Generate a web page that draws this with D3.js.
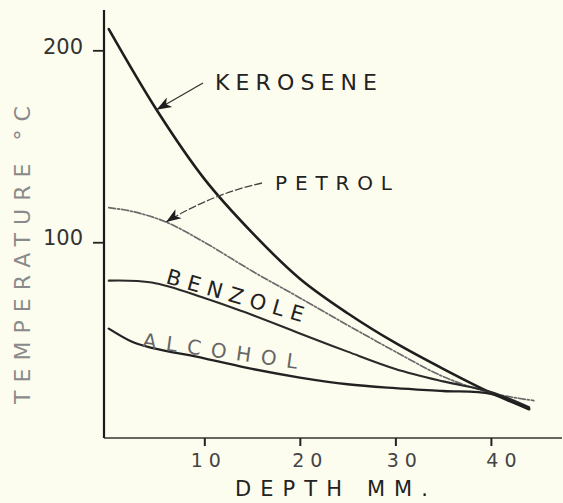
<!DOCTYPE html>
<html>
<head>
<meta charset="utf-8">
<script src="https://cdn.jsdelivr.net/npm/d3@7"></script>
<style>
  body { margin: 0; background: #fdfdef; }
  svg { display: block; }
  text { font-family: "DejaVu Sans", sans-serif; }
</style>
</head>
<body>
<div id="chart"></div>
<script>
let svgWidth = 563;
let svgHeight = 503;

// Data (depth in mm, temperature in deg C)
let keroseneDepth = [0, 5, 10, 15, 20, 25, 30, 35, 40, 44];
let keroseneTemp  = [211, 169, 133, 105, 81, 63, 47.5, 34, 21.5, 13];

let petrolDepth = [0, 2.5, 6, 10, 15, 20, 26, 30, 35, 40, 44.5];
let petrolTemp  = [118, 116, 110.5, 100, 85, 71, 54, 43, 30, 21.5, 17.5];

let benzoleDepth = [0, 4.5, 10, 14, 20, 25, 30, 35, 40, 44];
let benzoleTemp  = [80, 79, 71, 64, 52.5, 43, 34, 27.5, 22, 14];

let alcoholDepth = [0, 2.5, 4.5, 10, 15, 20, 25, 30, 35, 40, 44];
let alcoholTemp  = [55, 48, 45, 39.5, 34, 29.5, 26, 24, 22.5, 21, 13.5];

let xTicks = [10, 20, 30, 40];
let xTickLabels = ["10", "20", "30", "40"];
let yTicks = [100, 200];
let yTickLabels = ["100", "200"];

let series = [
  { name: "KEROSENE", depth: keroseneDepth, temp: keroseneTemp },
  { name: "PETROL", depth: petrolDepth, temp: petrolTemp },
  { name: "BENZOLE", depth: benzoleDepth, temp: benzoleTemp },
  { name: "ALCOHOL", depth: alcoholDepth, temp: alcoholTemp }
];

let svg = d3.select("#chart")
  .append("svg")
  .attr("width", svgWidth)
  .attr("height", svgHeight);

svg.append("rect")
  .attr("width", svgWidth)
  .attr("height", svgHeight)
  .attr("fill", "#fdfdef");

let x = d3.scaleLinear().domain([-0.5, 46.5]).range([104, 553]);
let y = d3.scaleLinear().domain([-2, 221]).range([438, 10]);

// axes lines
svg.append("line")
  .attr("x1", x(-0.5)).attr("x2", x(-0.5))
  .attr("y1", y(221)).attr("y2", y(-2))
  .attr("stroke", "#1a1a1a").attr("stroke-width", 2.2);

svg.append("line")
  .attr("x1", x(-0.5)).attr("x2", 562)
  .attr("y1", y(-2)).attr("y2", y(-2))
  .attr("stroke", "#333").attr("stroke-width", 1.6);

// x ticks
let bottomAxis = d3.axisBottom(x)
  .tickValues(xTicks)
  .tickFormat((d, i) => xTickLabels[i])
  .tickSize(8)
  .tickPadding(8);

let gx = svg.append("g")
  .attr("transform", `translate(0, ${y(-2)})`)
  .call(bottomAxis);
gx.select(".domain").remove();
gx.selectAll(".tick line").attr("stroke", "#222").attr("stroke-width", 2);
gx.selectAll(".tick text")
  .attr("font-size", 19)
  .attr("fill", "#444")
  .attr("letter-spacing", 6)
  .attr("dx", (d, i) => [4, 10, 9, 13][i]);

// y ticks
let leftAxis = d3.axisLeft(y)
  .tickValues(yTicks)
  .tickFormat((d, i) => yTickLabels[i])
  .tickSize(11)
  .tickPadding(10);

let gy = svg.append("g")
  .attr("transform", `translate(${x(-0.5)}, 0)`)
  .call(leftAxis);
gy.select(".domain").remove();
gy.selectAll(".tick line").attr("stroke", "#222").attr("stroke-width", 1.8);
gy.selectAll(".tick text")
  .attr("font-size", 21)
  .attr("fill", "#333")
  .attr("y", -4);

// curves
let line = d3.line()
  .x(d => x(d[0]))
  .y(d => y(d[1]))
  .curve(d3.curveCatmullRom.alpha(0.5));

let styles = {
  KEROSENE: { stroke: "#1e1e1e", width: 2.6, dash: null },
  PETROL: { stroke: "#6a6a6a", width: 1.7, dash: "7,2,2,2" },
  BENZOLE: { stroke: "#2a2a2a", width: 2.1, dash: null },
  ALCOHOL: { stroke: "#222", width: 2.3, dash: null }
};

series.forEach(function(s) {
  let pts = s.depth.map((d, i) => [d, s.temp[i]]);
  svg.append("path")
    .datum(pts)
    .attr("d", line)
    .attr("fill", "none")
    .attr("stroke", styles[s.name].stroke)
    .attr("stroke-width", styles[s.name].width)
    .attr("stroke-dasharray", styles[s.name].dash)
    .attr("stroke-linecap", "round");
});

// arrowheads
function arrowHead(tipX, tipY, fromX, fromY) {
  let ang = Math.atan2(tipY - fromY, tipX - fromX);
  let len = 15, half = 5.5;
  let bx = tipX - len * Math.cos(ang), by = tipY - len * Math.sin(ang);
  let px = -Math.sin(ang) * half, py = Math.cos(ang) * half;
  svg.append("path")
    .attr("d", `M${tipX},${tipY}L${bx + px},${by + py}L${bx + 4 * Math.cos(ang)},${by + 4 * Math.sin(ang)}L${bx - px},${by - py}Z`)
    .attr("fill", "#1e1e1e");
}

// kerosene label + arrow
let kTip = [x(5), y(169)];
svg.append("line")
  .attr("x1", 203).attr("y1", 83)
  .attr("x2", kTip[0]).attr("y2", kTip[1])
  .attr("stroke", "#333").attr("stroke-width", 1.3);
arrowHead(kTip[0], kTip[1], 203, 83);

svg.append("text")
  .attr("x", 215).attr("y", 90)
  .attr("font-size", 22)
  .attr("fill", "#222")
  .attr("textLength", 162)
  .attr("lengthAdjust", "spacing")
  .text("KEROSENE");

// petrol label + arrow
let pTip = [x(6), y(110.5)];
svg.append("path")
  .attr("d", `M262,183Q212,194 ${pTip[0]},${pTip[1]}`)
  .attr("fill", "none")
  .attr("stroke", "#444").attr("stroke-width", 1.3)
  .attr("stroke-dasharray", "8,2");
arrowHead(pTip[0], pTip[1], 190, 206);

svg.append("text")
  .attr("x", 275).attr("y", 190)
  .attr("font-size", 20)
  .attr("fill", "#222")
  .attr("textLength", 117)
  .attr("lengthAdjust", "spacing")
  .text("PETROL");

// benzole label along its curve
svg.append("text")
  .attr("transform", "translate(165,283) rotate(16)")
  .attr("font-size", 21)
  .attr("fill", "#222")
  .attr("textLength", 142)
  .attr("lengthAdjust", "spacing")
  .text("BENZOLE");

// alcohol label
svg.append("text")
  .attr("transform", "translate(142,347) rotate(8)")
  .attr("font-size", 20)
  .attr("fill", "#666")
  .attr("textLength", 156)
  .attr("lengthAdjust", "spacing")
  .text("ALCOHOL");

// axis titles
svg.append("text")
  .attr("transform", "translate(30, 255) rotate(-90)")
  .attr("text-anchor", "middle")
  .attr("font-size", 22)
  .attr("fill", "#8a8a8a")
  .attr("textLength", 298)
  .attr("lengthAdjust", "spacing")
  .text("TEMPERATURE °C");

svg.append("text")
  .attr("x", 235).attr("y", 496)
  .attr("font-size", 21)
  .attr("fill", "#222")
  .attr("textLength", 193)
  .attr("lengthAdjust", "spacing")
  .text("DEPTH MM.");
</script>
</body>
</html>
